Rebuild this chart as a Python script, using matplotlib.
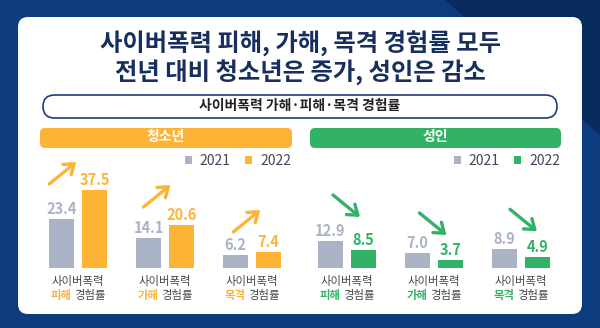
import numpy as np
import matplotlib.pyplot as plt
from matplotlib.patches import FancyBboxPatch, Polygon
from matplotlib.offsetbox import TextArea, HPacker, AnnotationBbox

plt.rcParams['font.family'] = ['Noto Sans CJK KR', 'DejaVu Sans']

##------------------------------------------------------------------##
# data
kinds = ['피해', '가해', '목격']
years = ['2021', '2022']
teen_2021 = [23.4, 14.1, 6.2]
teen_2022 = [37.5, 20.6, 7.4]
adult_2021 = [12.9, 7.0, 8.9]
adult_2022 = [8.5, 3.7, 4.9]

title = '사이버폭력 피해, 가해, 목격 경험률 모두\n전년 대비 청소년은 증가, 성인은 감소'
subtitle = '사이버폭력 가해·피해·목격 경험률'

##------------------------------------------------------------------##
# colours
BG = '#0c3c7e'
BG_DARK = '#082b5e'
NAVY = '#182f5d'
GRAY = '#aab3c6'
ORANGE = '#fdb336'
GREEN = '#31b267'
TXT = '#474747'

# layout in pixels (figure is 600 x 328)
W, H = 600, 328
PX_PER_UNIT = 2.08      # bar height scale
BASE = 267.5            # bar baseline, from top
STEP = 87               # distance between groups

fig = plt.figure(figsize=(6, 3.28), dpi=100)
fig.patch.set_facecolor(BG)

# background axes in pixel coordinates
bg = fig.add_axes([0, 0, 1, 1])
bg.set_xlim(0, W)
bg.set_ylim(H, 0)
bg.axis('off')

bg.add_patch(Polygon([(445, 0), (600, 0), (600, 135)], closed=True,
                     color=BG_DARK, lw=0))
bg.add_patch(FancyBboxPatch((18, 17), 564, 297,
                            boxstyle='round,pad=0,rounding_size=10',
                            fc='white', ec='none'))

bg.text(300, 58, title, ha='center', va='center', fontsize=17.5,
        fontweight='bold', color=NAVY, linespacing=1.12)

bg.add_patch(FancyBboxPatch((43, 95), 514, 23,
                            boxstyle='round,pad=0,rounding_size=11.5',
                            fc='white', ec='#1e3d7a', lw=1.2))
bg.text(300, 106, subtitle, ha='center', va='center', fontsize=10,
        fontweight='bold', color='#222222')


def draw_panel(left, name, v21, v22, color, arrows, sign, head_x0, head_x1):
    # header bar
    bg.add_patch(FancyBboxPatch((head_x0, 128), head_x1 - head_x0, 20,
                                boxstyle='round,pad=0,rounding_size=5',
                                fc=color, ec='none'))
    bg.text((head_x0 + head_x1) / 2, 137.5, name, ha='center', va='center',
            fontsize=10, fontweight='bold', color='white')

    # bar axes
    ax = fig.add_axes([left / W, (H - BASE) / H, 3.2 * STEP / W,
                       50 * PX_PER_UNIT / H])
    ax.set_xlim(-0.6, 2.6)
    ax.set_ylim(0, 50)
    ax.axis('off')

    x = np.arange(len(kinds))
    bw = 25 / STEP
    off = 16.5 / STEP
    b1 = ax.bar(x - off, v21, width=bw, color=GRAY, label=years[0])
    b2 = ax.bar(x + off, v22, width=bw, color=color, label=years[1])

    for xi, v in zip(x - off, v21):
        ax.annotate(f'{v:.1f}', (xi, v), xytext=(0, 3.5),
                    textcoords='offset points', ha='center', va='baseline',
                    fontsize=10.5, fontweight='bold', color=GRAY)
    for xi, v in zip(x + off, v22):
        ax.annotate(f'{v:.1f}', (xi, v), xytext=(0, 3.5),
                    textcoords='offset points', ha='center', va='baseline',
                    fontsize=10.5, fontweight='bold', color=color)

    leg = ax.legend(handles=[b1, b2], loc='center right',
                    bbox_to_anchor=(head_x1 - 1, 161),
                    bbox_transform=bg.transData, ncol=2, frameon=False,
                    fontsize=10, handlelength=0.5, handleheight=0.5,
                    handletextpad=0.6, columnspacing=1.0, borderpad=0,
                    borderaxespad=0)
    for t in leg.get_texts():
        t.set_color('#3f4656')

    # arrows and category labels
    for i, k in enumerate(kinds):
        cx = left + (i + 0.6) * STEP
        dx, ty = arrows[i]
        bg.annotate('', xy=(cx + dx + 27, ty + sign * 22), xytext=(cx + dx, ty),
                    arrowprops=dict(arrowstyle='->,head_length=0.55,head_width=0.4',
                                    lw=2.4, color=color, mutation_scale=12,
                                    shrinkA=0, shrinkB=0))
        bg.text(cx, 282, '사이버폭력', ha='center', va='center',
                fontsize=8.2, color=TXT)
        pack = HPacker(children=[
            TextArea(k, textprops=dict(fontsize=8.2, fontweight='bold',
                                       color=color)),
            TextArea('경험률', textprops=dict(fontsize=8.2, color=TXT))],
            sep=2.2, pad=0, align='center')
        bg.add_artist(AnnotationBbox(pack, (cx, 295.5), xycoords='data',
                                     box_alignment=(0.5, 0.5),
                                     frameon=False, pad=0))


# teen panel: arrows go up, adult panel: arrows go down
teen_arrows = [(-28.7, 184), (-21.5, 207), (-18.7, 232)]
adult_arrows = [(-14, 195), (-14.5, 213), (-11, 209.3)]

draw_panel(78 - 0.6 * STEP, '청소년', teen_2021, teen_2022, ORANGE,
           teen_arrows, -1, 40, 292)
draw_panel(347 - 0.6 * STEP, '성인', adult_2021, adult_2022, GREEN,
           adult_arrows, 1, 310, 561)

fig.savefig('out.png', dpi=100, facecolor=BG)
